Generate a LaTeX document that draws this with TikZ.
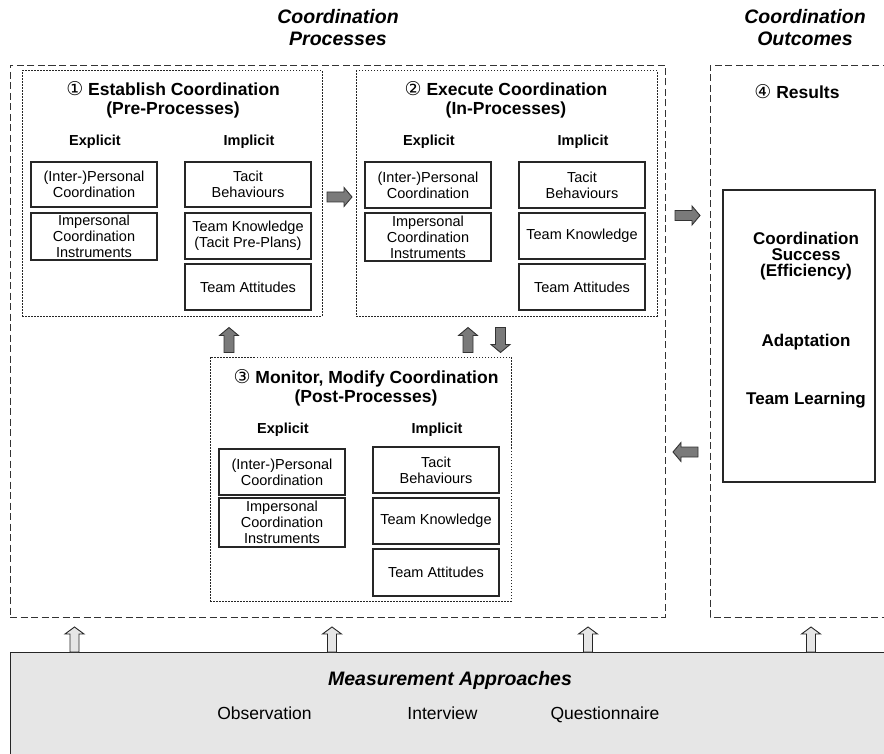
\documentclass[tikz,border=0pt]{standalone}
\usepackage{fontspec}
\setmainfont{Liberation Sans}
\newfontfamily\circfnt{DejaVu Sans}
\newcommand\itemfnt{\fontsize{14.5}{16}\selectfont}
\newcommand\ttlfnt{\fontsize{17.5}{19}\selectfont\bfseries}
\newcommand\hdrfnt{\fontsize{14.5}{16}\selectfont\bfseries}
\newcommand\bigttlfnt{\fontsize{19.5}{22}\selectfont\bfseries\itshape}
\newcommand\resfnt{\fontsize{17}{16}\selectfont\bfseries}
\newcommand\measfnt{\fontsize{17.5}{20}\selectfont}
\newcommand\cd[1]{{\circfnt\mdseries\fontsize{19}{19}\selectfont #1}}
\definecolor{arrowgray}{HTML}{7A7A7A}
\definecolor{lightfill}{HTML}{E6E6E6}
\tikzset{
  outer/.style={draw=black!80, line width=0.9pt, dash pattern=on 7pt off 3.5pt},
  dotbox/.style={draw=black!85, line width=1pt, dash pattern=on 1.5pt off 1.5pt, inner sep=0pt},
  itembox/.style={draw=black!85, line width=1.1pt, inner sep=0pt, align=center, font=\itemfnt, minimum width=126pt},
  ttl/.style={align=center, font=\ttlfnt, inner sep=0pt},
  hdr/.style={font=\hdrfnt, inner sep=0pt},
  restext/.style={align=center, font=\resfnt, inner sep=0pt},
  meas/.style={font=\measfnt, inner sep=0pt, anchor=base},
  garrow/.pic={\draw[fill=arrowgray, draw=black!80, line width=0.9pt, line join=miter]
     (-12.5,-5) -- (4.5,-5) -- (4.5,-9.5) -- (12.5,0) -- (4.5,9.5) -- (4.5,5) -- (-12.5,5) -- cycle;},
  harrow/.pic={\draw[fill=lightfill, draw=black!85, line width=0.9pt, line join=miter]
     (-12.5,-4.5) -- (5.5,-4.5) -- (5.5,-9.5) -- (12.5,0) -- (5.5,9.5) -- (5.5,4.5) -- (-12.5,4.5) -- cycle;}
}
\begin{document}
\begin{tikzpicture}[x=1pt,y=-1pt]
\path[use as bounding box] (0,0) rectangle (884,754);
\clip (0,0) rectangle (884,754);

% headings
\node[align=center, font=\bigttlfnt, inner sep=0pt] (hproc) at (338,28) {Coordination\\Processes};
\node[align=center, font=\bigttlfnt, inner sep=0pt] (hout) at (805,28) {Coordination\\Outcomes};

% outer dashed boxes
\node[outer, minimum width=655pt, minimum height=552pt, inner sep=0pt] (proc) at (337.5,341) {};
\coordinate (oc1) at (900,65);
\coordinate (oc2) at (710,65);
\coordinate (oc3) at (710,617);
\coordinate (oc4) at (900,617);
\draw[outer] (oc1) -- (oc2) -- (oc3) -- (oc4);

% box 1
\node[dotbox, minimum width=300pt, minimum height=245pt] (pre) at (172,193.5) {};
\node[ttl] (preT) at (173,99.5) {\cd{①} Establish Coordination\\(Pre-Processes)};
\node[hdr] (preE) at (95,142) {Explicit};
\node[hdr] (preI) at (249,142) {Implicit};
\node[itembox, minimum height=45pt] (e1a) at (94,184.5) {(Inter-)Personal\\Coordination};
\node[itembox, minimum height=47pt] (e1b) at (94,236.5) {Impersonal\\Coordination\\Instruments};
\node[itembox, minimum height=45pt] (i1a) at (248,184.5) {Tacit\\Behaviours};
\node[itembox, minimum height=46pt] (i1b) at (248,236) {Team Knowledge\\(Tacit Pre-Plans)};
\node[itembox, minimum height=46pt] (i1c) at (248,287) {Team Attitudes};

% box 2
\node[dotbox, minimum width=301pt, minimum height=245pt] (in) at (506.5,193.5) {};
\node[ttl] (inT) at (506,99.5) {\cd{②} Execute Coordination\\(In-Processes)};
\node[hdr] (inE) at (429,142) {Explicit};
\node[hdr] (inI) at (583,142) {Implicit};
\node[itembox, minimum height=46pt] (e2a) at (428,185) {(Inter-)Personal\\Coordination};
\node[itembox, minimum height=48pt] (e2b) at (428,237) {Impersonal\\Coordination\\Instruments};
\node[itembox, minimum height=46pt] (i2a) at (582,185) {Tacit\\Behaviours};
\node[itembox, minimum height=46pt] (i2b) at (582,236) {Team Knowledge};
\node[itembox, minimum height=46pt] (i2c) at (582,287) {Team Attitudes};

% box 3
\node[dotbox, minimum width=301pt, minimum height=244pt] (post) at (360.5,479) {};
\node[ttl] (postT) at (366,387.5) {\cd{③} Monitor, Modify Coordination\\(Post-Processes)};
\node[hdr] (postE) at (283,430) {Explicit};
\node[hdr] (postI) at (437,430) {Implicit};
\node[itembox, minimum height=46pt] (e3a) at (282,472) {(Inter-)Personal\\Coordination};
\node[itembox, minimum height=49pt] (e3b) at (282,522.5) {Impersonal\\Coordination\\Instruments};
\node[itembox, minimum height=46pt] (i3a) at (436,470) {Tacit\\Behaviours};
\node[itembox, minimum height=46pt] (i3b) at (436,521) {Team Knowledge};
\node[itembox, minimum height=47pt] (i3c) at (436,572.5) {Team Attitudes};

% results
\node[font=\ttlfnt, inner sep=0pt] (resT) at (797,92) {\cd{④} Results};
\node[draw=black!85, line width=1.1pt, minimum width=152pt, minimum height=292pt, inner sep=0pt] (res) at (799,336) {};
\node[restext] (r1) at (806,256) {Coordination\\Success\\(Efficiency)};
\node[restext] (r2) at (806,342) {Adaptation};
\node[restext] (r3) at (806,400) {Team Learning};

% block arrows
\pic at (339.5,197) {garrow};
\pic at (687.5,215.5) {garrow};
\pic[rotate=180] at (685.5,452) {garrow};
\pic[rotate=90] at (229,340) {garrow};
\pic[rotate=90] at (468,340) {garrow};
\pic[rotate=-90] at (500.5,340) {garrow};

% measurement box
\coordinate (m1) at (10,652);
\coordinate (m2) at (900,770);
\draw[fill=lightfill, draw=black!85, line width=1pt] (m1) rectangle (m2);
\pic[rotate=90] at (74.5,639.5) {harrow};
\pic[rotate=90] at (332,639.5) {harrow};
\pic[rotate=90] at (588,639.5) {harrow};
\pic[rotate=90] at (811,639.5) {harrow};
\node[font=\bigttlfnt, inner sep=0pt, anchor=base] (mT) at (450,685) {Measurement Approaches};
\node[meas] (obs) at (264.5,719) {Observation};
\node[meas] (int) at (442.5,719) {Interview};
\node[meas] (que) at (605,719) {Questionnaire};
\end{tikzpicture}
\end{document}
